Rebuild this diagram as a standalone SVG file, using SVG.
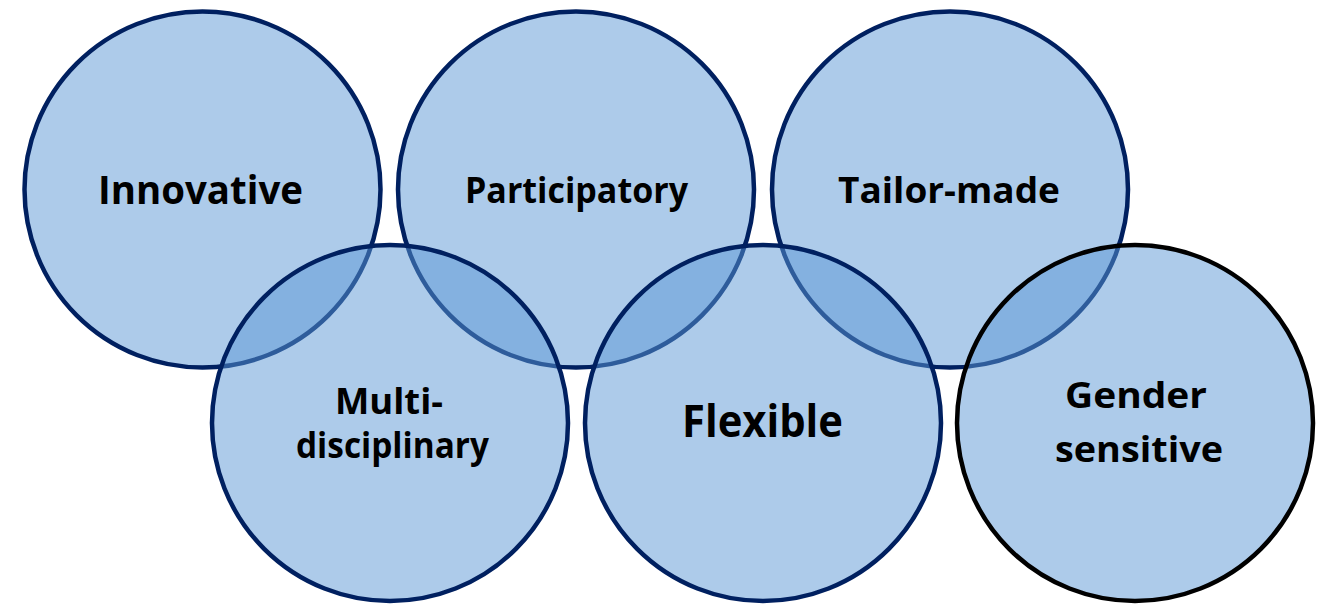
<svg xmlns="http://www.w3.org/2000/svg" width="1317" height="606" viewBox="0 0 1317 606">
<style>
.c{fill:#5b97d5;fill-opacity:0.5;stroke:#002060;stroke-width:4.5}
.blk{stroke:#000000}
.t{font-family:"Open Sans","Liberation Sans",sans-serif;font-weight:bold;fill:#000000;text-anchor:middle}
</style>
<rect width="1317" height="606" fill="#ffffff"/>
<g id="innovative">
<circle class="c" cx="202.5" cy="189.5" r="178"/>
<text class="t" x="200.5" y="204" font-size="40" textLength="205" lengthAdjust="spacingAndGlyphs">Innovative</text>
</g>
<g id="participatory">
<circle class="c" cx="576" cy="189.5" r="178"/>
<text class="t" x="576.5" y="203" font-size="35.5" textLength="223" lengthAdjust="spacingAndGlyphs">Participatory</text>
</g>
<g id="tailor-made">
<circle class="c" cx="950" cy="189.5" r="178"/>
<text class="t" x="949" y="203" font-size="36.5" textLength="222" lengthAdjust="spacingAndGlyphs">Tailor-made</text>
</g>
<g id="multi-disciplinary">
<circle class="c" cx="390" cy="423" r="178"/>
<text class="t" x="389" y="414" font-size="36" textLength="108" lengthAdjust="spacingAndGlyphs">Multi-</text>
<text class="t" x="392.5" y="458" font-size="36" textLength="193" lengthAdjust="spacingAndGlyphs">disciplinary</text>
</g>
<g id="flexible">
<circle class="c" cx="763" cy="423" r="178"/>
<text class="t" x="762.5" y="437" font-size="44" textLength="161" lengthAdjust="spacingAndGlyphs">Flexible</text>
</g>
<g id="gender-sensitive">
<circle class="c blk" cx="1135" cy="423" r="178"/>
<text class="t" x="1136" y="408" font-size="35" textLength="142" lengthAdjust="spacingAndGlyphs">Gender</text>
<text class="t" x="1139" y="462" font-size="35" textLength="168" lengthAdjust="spacingAndGlyphs">sensitive</text>
</g>
</svg>
